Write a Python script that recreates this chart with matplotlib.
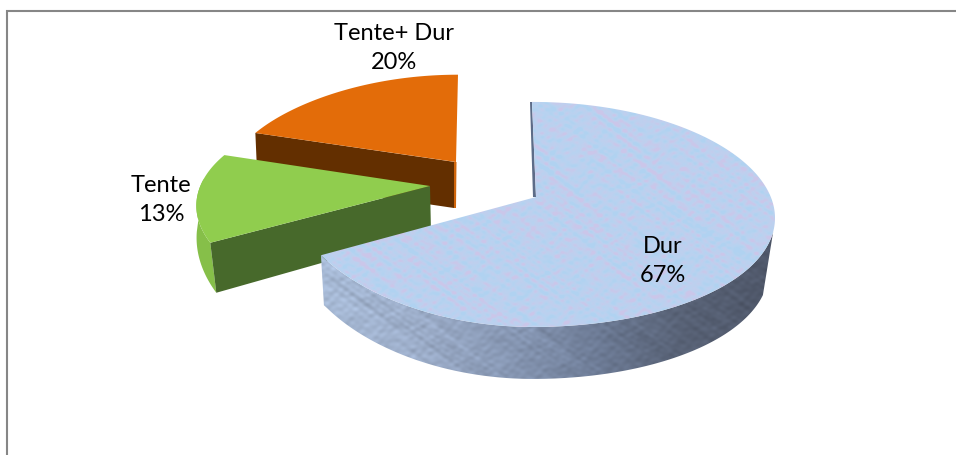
import numpy as np
import matplotlib
matplotlib.use("Agg")
import matplotlib.pyplot as plt
from matplotlib.patches import Polygon
from matplotlib.colors import LinearSegmentedColormap

# --- data ---
categories = ["Dur", "Tente", "Tente+ Dur"]
percents = [67, 13, 20]

W, H = 956, 455
fig = plt.figure(figsize=(W / 100, H / 100), dpi=100)
ax = fig.add_axes([0, 0, 1, 1])
ax.set_xlim(0, W)
ax.set_ylim(H, 0)
ax.axis("off")

# slice angles from the values, clockwise from 12 o'clock
fracs = np.array(percents) / sum(percents)
edges = 90 - 360 * np.concatenate([[0], np.cumsum(fracs)])
d0, d1 = edges[0], edges[1]
g0, g1 = edges[1] + 360, edges[2] + 360   # 208.8 -> 162
o0, o1 = edges[2] + 360, edges[3] + 360   # 162 -> 90


def arc(ax_, ay_, R, k, Ry, k2, a, b, bulge=0.0, n=120, dx=0.0, dy=0.0, sx=1.0):
    t = np.radians(np.linspace(a, b, n))
    s = np.sin(t)
    c = np.cos(t)
    x = ax_ + sx * R * (1 - k * s) * c + dx
    y = ay_ - Ry * (1 - k2 * s) * s + bulge * np.clip(c, 0, None) ** 2 + dy
    return np.column_stack([x, y])


def textured(poly, img, extent):
    im = ax.imshow(img, extent=extent, aspect="auto", zorder=poly.get_zorder(), interpolation="bilinear")
    ax.add_patch(poly)
    poly.set_facecolor("none")
    poly.set_edgecolor("none")
    im.set_clip_path(poly)
    ax.set_xlim(0, W)
    ax.set_ylim(H, 0)


# deterministic mottling from fixed sine components (soft blotches plus fine grain)
yy, xx = np.mgrid[0:H, 0:W].astype(float)
comps = [(0.071, 0.163, 0.3, 0.45), (-0.093, 0.127, 1.7, 0.45), (0.113, -0.211, 2.9, 0.4),
         (0.043, 0.253, 4.1, 0.4), (-0.151, 0.197, 5.3, 0.4), (0.187, 0.293, 0.9, 0.5),
         (-0.217, 0.337, 2.2, 0.5), (0.263, -0.389, 4.7, 0.6), (0.353, 0.471, 5.9, 0.6),
         (-0.331, 0.523, 0.4, 0.6), (0.417, 0.613, 3.3, 0.6), (-0.463, 0.577, 1.3, 0.6),
         (0.521, -0.701, 2.6, 0.55), (-0.587, 0.761, 4.4, 0.55), (0.643, 0.829, 5.1, 0.5),
         (0.293, 0.907, 0.7, 0.5), (-0.239, 0.983, 3.9, 0.5), (0.709, 0.433, 1.9, 0.45)]
m = sum(w * np.sin(a * xx + b * yy + p + 2.5 * np.sin(0.061 * xx - 0.083 * yy + p))
        for a, b, p, w in comps)
m = (m - m.mean()) / m.std()
blues = LinearSegmentedColormap.from_list("m", ["#b0d2f1", "#b9d2f0", "#c0cfee", "#cbc6e9"])
top_img = blues(np.clip((m + 1.8) / 3.8, 0, 1))[:, :, :3]

# wall shading: left to right
gx = np.array([320, 420, 520, 600, 680, 780])
gr = np.array([[0xa9, 0xbc, 0xd8], [0x9d, 0xae, 0xca], [0x84, 0x94, 0xb0],
               [0x6c, 0x7a, 0x94], [0x58, 0x62, 0x76], [0x4e, 0x56, 0x68]], float)
base = np.stack([np.interp(xx, gx, gr[:, i]) for i in range(3)], axis=2) / 255
wall_img = np.clip(base * (1.0 + 0.03 * m[:, :, None]), 0, 1)
extent = (0, W, H, 0)

# --- Tente+ Dur (orange) ---
oa = (455, 162)
o_par = (223, 0.19, 97, 0.10)
o_top = arc(*oa, *o_par, o0, o1)
o_left = o_top[0].copy()
ax.add_patch(Polygon([o_left, oa, (oa[0] - 1, oa[1] + 46), (o_left[0] + 2, o_left[1] + 46)],
                     fc="#632f00", ec="none", zorder=2))
ax.add_patch(Polygon([(oa[0] - 1, oa[1]), (oa[0] + 1.5, oa[1]), (oa[0] + 1, oa[1] + 46), (oa[0] - 1, oa[1] + 46)],
                     fc="#d0650a", ec="none", zorder=2))
o_top[:, 0] += np.linspace(0, 3, len(o_top))
ax.add_patch(Polygon(np.vstack([o_top, (oa[0] + 1, oa[1])]), fc="#e36c09", ec="none", zorder=3))

# --- Tente (green) ---
ga = (430, 186)
g_par = (229.7, 0.19, 107, 0.21)
g_wall_top = arc(*ga, *g_par, 176, g0)
g_wall_bot = arc(*ga, *g_par, g0, 184, dx=np.linspace(6, -1, 120), dy=np.linspace(50, 38, 120))
ax.add_patch(Polygon(np.vstack([g_wall_top, g_wall_bot]), fc="#86bf49", ec="none", zorder=4))
top_end = arc(*ga, *g_par, g0, g0, n=1)[0]
ax.add_patch(Polygon([top_end, ga, (ga[0] + 1, ga[1] + 46), (top_end[0] + 6, top_end[1] + 50)],
                     fc="#47692b", ec="none", zorder=5))
g_top = arc(*ga, *g_par, g1, g0)
ax.add_patch(Polygon(np.vstack([g_top, ga]), fc="#90cd4e", ec="none", zorder=6))

# --- Dur (blue) ---
da = (536, 197)
d_par = (242, 0.0, 112.5, 0.155)
cx = 533
d_top = arc(cx, da[1], *d_par, d0, d1, bulge=21, n=300)
d_top[0, 0] = cx - 1
d_wall_top = arc(cx, da[1], *d_par, d1, -7, bulge=21, n=200)
d_wall_bot = arc(cx, da[1], *d_par, -13, d1, bulge=21, n=200, dy=52, sx=0.975)
d_wall_bot[-1] = d_wall_top[0] + (3, 50)
textured(Polygon(np.vstack([d_wall_top, d_wall_bot]), zorder=7), wall_img, extent)
ax.add_patch(Polygon([(cx - 3, 102), (cx - 1, 102), da, (da[0] - 3, da[1])], fc="#5d6c88", ec="none", zorder=7))
textured(Polygon(np.vstack([d_top, da]), zorder=8), top_img, extent)

# --- frame ---
ax.plot([7.5, 7.5, W], [H, 10.5, 10.5], color="#868686", lw=1.5, solid_joinstyle="miter", zorder=1)

# --- labels ---
label_pos = [(663, 261), (161, 200), (394, 48)]
for name, pct, (lx, ly) in zip(categories, percents, label_pos):
    ax.text(lx, ly, f"{name}\n{pct}%", ha="center", va="center", family="Lato",
            fontsize=17, linespacing=1.52, color="black", zorder=10)

fig.savefig("out.png", dpi=100)
